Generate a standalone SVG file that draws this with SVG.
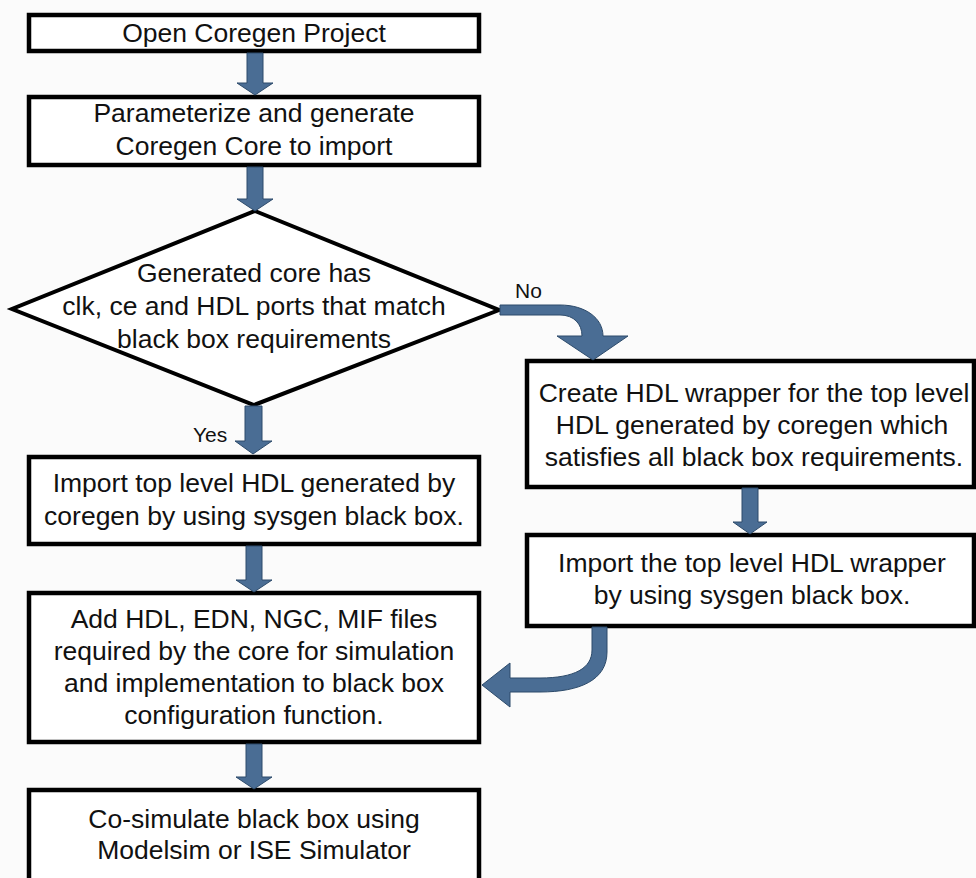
<svg xmlns="http://www.w3.org/2000/svg" width="976" height="878" viewBox="0 0 976 878">
<style>
.box{fill:#ffffff;stroke:#000;stroke-width:4.5}
.dia{fill:#ffffff;stroke:#000;stroke-width:4}
.t{font-family:"Liberation Sans",Arial,Helvetica,sans-serif;font-size:26.5px;fill:#111;text-anchor:middle}
.lbl{font-family:"Liberation Sans",Arial,Helvetica,sans-serif;font-size:21px;fill:#111}
.arr{fill:#4a6d94;stroke:#2c4a6a;stroke-width:1;stroke-linejoin:miter}
</style>
<rect x="0" y="0" width="976" height="878" fill="#fbfbfb"/>
<g id="n1">
<rect class="box" x="29" y="15" width="450" height="36"/>
<text class="t" x="254" y="42">Open Coregen Project</text>
</g>
<g id="n2">
<rect class="box" x="29" y="97" width="450" height="68"/>
<text class="t" x="254" y="122">Parameterize and generate</text>
<text class="t" x="254" y="155">Coregen Core to import</text>
</g>
<g id="n3">
<polygon class="dia" points="255,211 499,310 254,405 12,309"/>
<text class="t" x="254" y="282">Generated core has</text>
<text class="t" x="254" y="315">clk, ce and HDL ports that match</text>
<text class="t" x="254" y="348">black box requirements</text>
</g>
<g id="n4">
<rect class="box" x="29" y="457" width="450" height="87"/>
<text class="t" x="254" y="492">Import top level HDL generated by</text>
<text class="t" x="254" y="525">coregen by using sysgen black box.</text>
</g>
<g id="n5">
<rect class="box" x="527" y="361" width="447" height="126"/>
<text class="t" x="754" y="402">Create HDL wrapper for the top level</text>
<text class="t" x="752" y="434">HDL generated by coregen which</text>
<text class="t" x="754" y="466">satisfies all black box requirements.</text>
</g>
<g id="n6">
<rect class="box" x="527" y="535" width="447" height="91"/>
<text class="t" x="752" y="572">Import the top level HDL wrapper</text>
<text class="t" x="752" y="604">by using sysgen black box.</text>
</g>
<g id="n7">
<rect class="box" x="29" y="593" width="450" height="149"/>
<text class="t" x="254" y="628">Add HDL, EDN, NGC, MIF files</text>
<text class="t" x="254" y="660">required by the core for simulation</text>
<text class="t" x="254" y="692">and implementation to black box</text>
<text class="t" x="254" y="724">configuration function.</text>
</g>
<g id="n8">
<rect class="box" x="29" y="790" width="450" height="100"/>
<text class="t" x="254" y="828">Co-simulate black box using</text>
<text class="t" x="254" y="859">Modelsim or ISE Simulator</text>
</g>
<g id="connectors">
<path class="arr" d="M247,53 L263,53 L263,83 L273,83 L255,95 L237,83 L247,83 Z"/>
<path class="arr" d="M247,167 L263,167 L263,199 L273,199 L255,211 L237,199 L247,199 Z"/>
<path class="arr" d="M245,406 L262,406 L262,441 L272,441 L253,454 L235,441 L245,441 Z"/>
<path class="arr" d="M246,546 L262,546 L262,580 L272,580 L254,592 L236,580 L246,580 Z"/>
<path class="arr" d="M246,744 L262,744 L262,777 L272,777 L254,789 L236,777 L246,777 Z"/>
<path class="arr" d="M742,488 L758,488 L758,522 L767,522 L750,534 L733,522 L742,522 Z"/>
<path class="arr" d="M500,305 L560,305 C585,305 603,318 603,336 L628,336 L593,360 L557,336 L582,336 C582,324 574,315 560,315 L500,315 Z"/>
<path class="arr" d="M592,627 L607,627 L607,652 C607,680 580,692 540,692 L510,692 L510,707 L482,685 L510,663 L510,678 L540,678 C575,678 592,668 592,650 Z"/>
<text class="lbl" x="515" y="298">No</text>
<text class="lbl" x="193" y="442">Yes</text>
</g>
</svg>
